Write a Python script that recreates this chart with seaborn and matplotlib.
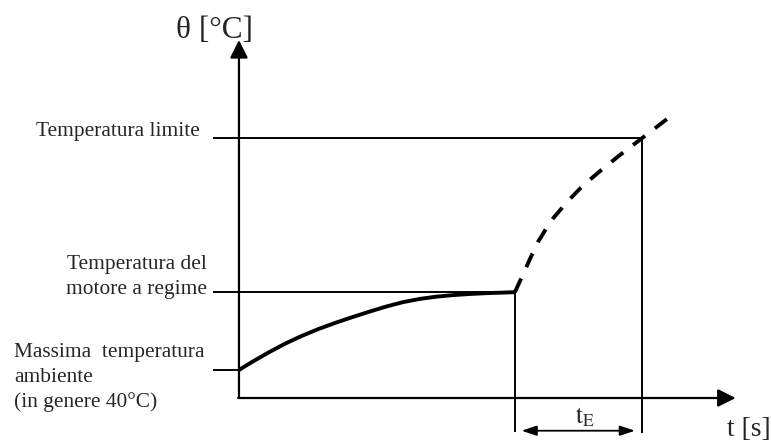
import matplotlib
matplotlib.use("Agg")
import matplotlib.pyplot as plt
import seaborn as sns
import pandas as pd

# ---------------- data (t in s-like units, theta in °C-like units) ----------------
t_solid = [0.0, 0.46, 1.06, 1.67, 2.27, 2.87, 3.48, 4.08, 4.68, 5.33,
           5.95, 6.56, 7.16, 7.76, 8.37, 8.97, 9.58, 10.0]
theta_solid = [40.0, 45.6, 52.4, 58.8, 64.3, 69.2, 73.6, 77.6, 81.4, 85.3,
               88.5, 90.8, 92.4, 93.5, 94.3, 94.9, 95.3, 95.6]

t_dashed = [10.0, 10.24, 10.40, 10.64, 10.84, 11.15, 11.39, 11.78, 12.05,
            12.47, 13.08, 13.80, 14.6, 15.62]
theta_dashed = [95.6, 106.0, 113.0, 123.4, 131.6, 141.5, 148.5, 157.5, 163.3,
                171.8, 182.0, 193.5, 205.5, 220.9]

theta_amb = 40.0      # Massima temperatura ambiente
theta_reg = 95.5      # Temperatura del motore a regime
theta_lim = 205.5     # Temperatura limite
t_reg = 10.0          # end of regime / start of overload
t_lim = 14.6          # time limit reached

t_origin = 0.0
theta_origin = 20.0
t_axis_end = 18.0
theta_axis_end = 275.7

label_theta = "θ [°C]"
label_t = "t [s]"
label_lim = "Temperatura limite"
label_reg = ["Temperatura del", "motore a regime"]
label_amb = ["Massima  temperatura", "ambiente", "(in genere 40°C)"]

# ---------------- figure ----------------
sns.set_theme(style="white")
plt.rcParams["font.family"] = ["Liberation Serif", "DejaVu Serif"]
plt.rcParams["mathtext.fontset"] = "stix"

fig = plt.figure(figsize=(7.71, 4.41), dpi=100)
ax = fig.add_axes([0, 0, 1, 1])
ax.set_xlim(-8.66, 19.28)
ax.set_ylim(-10.71, 304.29)
ax.axis("off")

df_solid = pd.DataFrame({"t": t_solid, "theta": theta_solid})
df_dash = pd.DataFrame({"t": t_dashed, "theta": theta_dashed})

sns.lineplot(data=df_solid, x="t", y="theta", ax=ax, color="black",
             linewidth=2.8, sort=False, solid_capstyle="butt",
             solid_joinstyle="round")
sns.lineplot(data=df_dash, x="t", y="theta", ax=ax, color="black",
             linewidth=2.8, sort=False, dashes=False, linestyle=(0, (3.86, 3.2)),
             dash_capstyle="butt", dash_joinstyle="round")

thin = dict(color="black", linewidth=1.4, solid_capstyle="butt")
tick_left = -0.95
drop = -4.2
# horizontal reference lines
ax.plot([tick_left, t_lim], [theta_lim, theta_lim], **thin)
ax.plot([tick_left, t_reg], [theta_reg, theta_reg], **thin)
ax.plot([tick_left, t_origin], [theta_amb, theta_amb], **thin)
# vertical lines
ax.plot([t_lim, t_lim], [theta_lim, drop - 0.6], **thin)
ax.plot([t_reg, t_reg], [theta_reg, drop], **thin)

# axes arrows
ax.annotate("", xy=(t_origin, theta_axis_end), xytext=(t_origin, theta_origin),
            arrowprops=dict(arrowstyle="-|>,head_length=1.08,head_width=0.54",
                            mutation_scale=10, color="black", lw=1.6,
                            shrinkA=0, shrinkB=0))
ax.annotate("", xy=(t_axis_end, theta_origin), xytext=(t_origin - 0.03, theta_origin),
            arrowprops=dict(arrowstyle="-|>,head_length=1.08,head_width=0.54",
                            mutation_scale=10, color="black", lw=1.6,
                            shrinkA=0, shrinkB=0))

# t_E double arrow
ax.annotate("", xy=(t_lim - 0.25, -3.36), xytext=(t_reg + 0.24, -3.36),
            arrowprops=dict(arrowstyle="<|-|>,head_length=0.9,head_width=0.3",
                            mutation_scale=10, color="black", lw=1.3,
                            shrinkA=0, shrinkB=0))
ax.text(12.54, 2.1, r"$\mathrm{t_E}$", ha="center", va="baseline", fontsize=18)

# labels
fs = 15.4
ax.text(-2.28, 277.5, label_theta, ha="left", va="baseline", fontsize=22.5)
ax.text(17.68, -7.1, label_t, ha="left", va="baseline", fontsize=20)
ax.text(-1.41, 206.8, label_lim, ha="right", va="baseline", fontsize=fs)
for i, s in enumerate(label_reg):
    ax.text(-1.16, 112.1 - i * 17.8, s, ha="right", va="baseline", fontsize=fs)
for i, s in enumerate(label_amb):
    ax.text(-8.15, 49.3 - i * 17.8, s, ha="left", va="baseline", fontsize=fs)

fig.savefig("out.png", dpi=100)
